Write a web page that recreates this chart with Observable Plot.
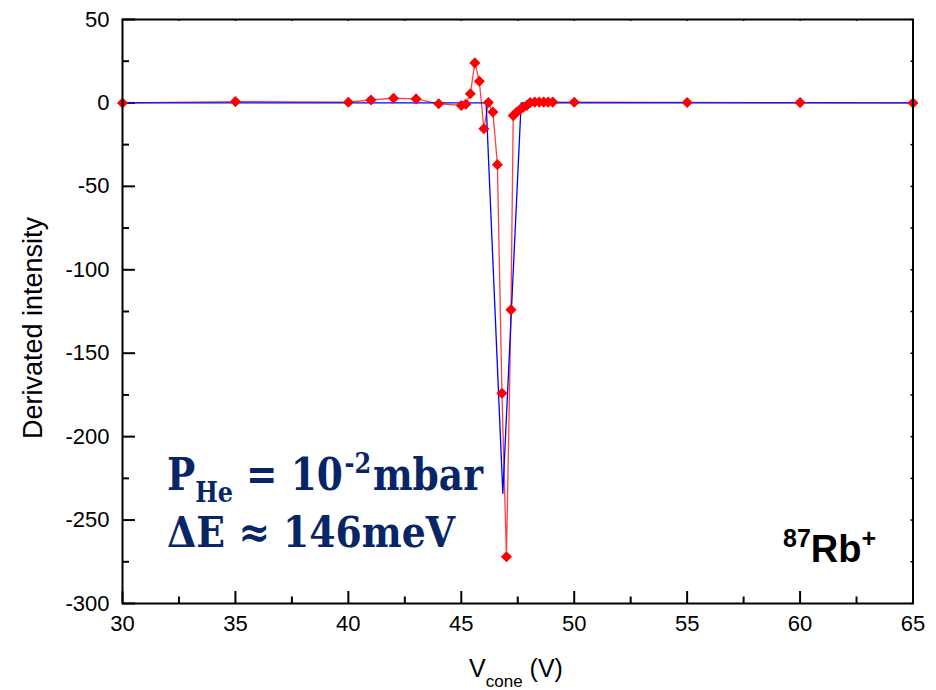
<!DOCTYPE html>
<html><head><meta charset="utf-8">
<script src="https://cdn.jsdelivr.net/npm/d3@7"></script>
<script src="https://cdn.jsdelivr.net/npm/@observablehq/plot@0.6"></script>
<style>body{margin:0;background:#fff} #chart{width:936px;height:690px}</style>
</head><body><div id="chart"></div>
<script>
// Red series (with diamond markers)
const vConeRed = [30,35,40,41,42,43,44,45,45.2,45.4,45.6,45.8,46,46.2,46.4,46.6,46.8,47,47.2,47.3,47.45,47.6,47.75,47.9,48.05,48.25,48.45,48.65,48.85,49.05,50,55,60,65];
const dRed =     [0,0.8,0.4,1.8,2.8,2.4,-0.5,-1.5,-0.8,5.5,24,13,-15.5,0.3,-5.5,-37,-174,-272,-124,-7.6,-5.6,-4,-2.6,-1.5,0.3,0.5,0.5,0.5,0.5,0.5,0.4,0.3,0.2,0];
// Blue series (line only)
const vConeBlue = [30,46.1,46.84,47.65,65];
const dBlue =     [0,0,-234,0,0];
// Ticks
const xMajor = [30,35,40,45,50,55,60,65];
const xMinor = [32.5,37.5,42.5,47.5,52.5,57.5,62.5];
const yMajor = [50,0,-50,-100,-150,-200,-250,-300];
const yMinor = [25,-25,-75,-125,-175,-225,-275];

const red = vConeRed.map((v,i)=>({v, d:dRed[i]}));
const blue = vConeBlue.map((v,i)=>({v, d:dBlue[i]}));

const W = 936, H = 690, mL = 122, mR = 23.5, mT = 19, mB = 87;
const PH = H - mT - mB, PW = W - mL - mR;
const fmt = d => String(d);

const chart = Plot.plot({
  width: W, height: H,
  marginLeft: mL, marginRight: mR, marginTop: mT, marginBottom: mB,
  x: {domain: [30, 65]},
  y: {domain: [-300, 50]},
  style: {fontFamily: "'Liberation Sans', Arial, sans-serif", fontSize: "22px", color: "#000", background: "#fff"},
  marks: [
    Plot.axisX(xMajor, {tickSize: 0, tickPadding: 12, fontSize: 22, label: null, tickFormat: fmt}),
    Plot.axisY(yMajor, {tickSize: 0, tickPadding: 13, fontSize: 22, label: null, tickFormat: fmt}),
    // inward ticks bottom
    Plot.tickX(xMajor, {x: d => d, insetTop: PH - 12, stroke: "#000", strokeWidth: 2}),
    Plot.tickX(xMinor, {x: d => d, insetTop: PH - 6.5, stroke: "#000", strokeWidth: 2}),
    // tiny ticks top
    Plot.tickX(xMajor.concat(xMinor), {x: d => d, insetBottom: PH - 2, stroke: "#000", strokeWidth: 1.5}),
    // inward ticks left
    Plot.tickY(yMajor, {y: d => d, insetRight: PW - 13, stroke: "#000", strokeWidth: 2}),
    Plot.tickY(yMinor, {y: d => d, insetRight: PW - 7, stroke: "#000", strokeWidth: 2}),
    // tiny ticks right
    Plot.tickY(yMajor.concat(yMinor), {y: d => d, insetLeft: PW - 2, stroke: "#000", strokeWidth: 1.5}),
    Plot.line(red, {x: "v", y: "d", stroke: "#ff0000", strokeWidth: 1.3, strokeOpacity: 0.75}),
    Plot.line(blue, {x: "v", y: "d", stroke: "#0000ff", strokeWidth: 1.3}),
    Plot.dot(red, {x: "v", y: "d", symbol: "diamond2", r: 5, fill: "#ff0000", stroke: "none"}),
    Plot.frame({stroke: "#000", strokeWidth: 2})
  ]
});
document.getElementById("chart").appendChild(chart);

const svg = d3.select(chart);
// Y label
svg.append("text")
  .attr("transform", "translate(33,328) rotate(-90)")
  .attr("text-anchor", "middle").attr("dominant-baseline", "central")
  .attr("font-family", "'Liberation Sans', Arial, sans-serif").attr("font-size", 27)
  .attr("fill", "#000")
  .text("Derivated intensity");
// X label
const xl = svg.append("text")
  .attr("x", 516).attr("y", 677).attr("text-anchor", "middle")
  .attr("font-family", "'Liberation Sans', Arial, sans-serif").attr("font-size", 25).attr("fill", "#000");
xl.append("tspan").text("V");
xl.append("tspan").attr("font-size", 17).attr("dy", 10).text("cone");
xl.append("tspan").attr("dy", -10).text(" (V)");

// Annotation
const navy = "#082566";
const serif = "'DejaVu Serif', 'Liberation Serif', serif";
const a1 = svg.append("text").attr("x", 167).attr("y", 490).attr("text-anchor", "start")
  .attr("font-family", serif).attr("font-weight", "bold").attr("font-size", 44).attr("fill", navy);
a1.append("tspan").text("P");
a1.append("tspan").attr("font-size", 28).attr("dy", 12).text("He");
a1.append("tspan").attr("dy", -12).text(" = 10");
a1.append("tspan").attr("font-size", 28).attr("dy", -17).attr("dx", 2).text("-2");
a1.append("tspan").attr("dy", 17).attr("dx", 2).text("mbar");
const a2 = svg.append("text").attr("x", 167).attr("y", 547).attr("text-anchor", "start")
  .attr("font-family", serif).attr("font-weight", "bold").attr("font-size", 43).attr("fill", navy)
  .text("ΔE ≈ 146meV");
function fit(sel, target) {
  const w = sel.node().getComputedTextLength();
  if (w > 0) sel.attr("textLength", target).attr("lengthAdjust", "spacingAndGlyphs");
}
fit(a1, 316);
fit(a2, 288);

// Rb label
const rb = svg.append("text").attr("x", 783).attr("y", 562).attr("text-anchor", "start")
  .attr("font-family", "'Liberation Sans', Arial, sans-serif").attr("font-weight", "bold").attr("font-size", 38).attr("fill", "#000");
rb.append("tspan").attr("font-size", 25).attr("dy", -15).text("87");
rb.append("tspan").attr("dy", 15).text("Rb");
rb.append("tspan").attr("font-size", 25).attr("dy", -15).text("+");
</script>
</body></html>
